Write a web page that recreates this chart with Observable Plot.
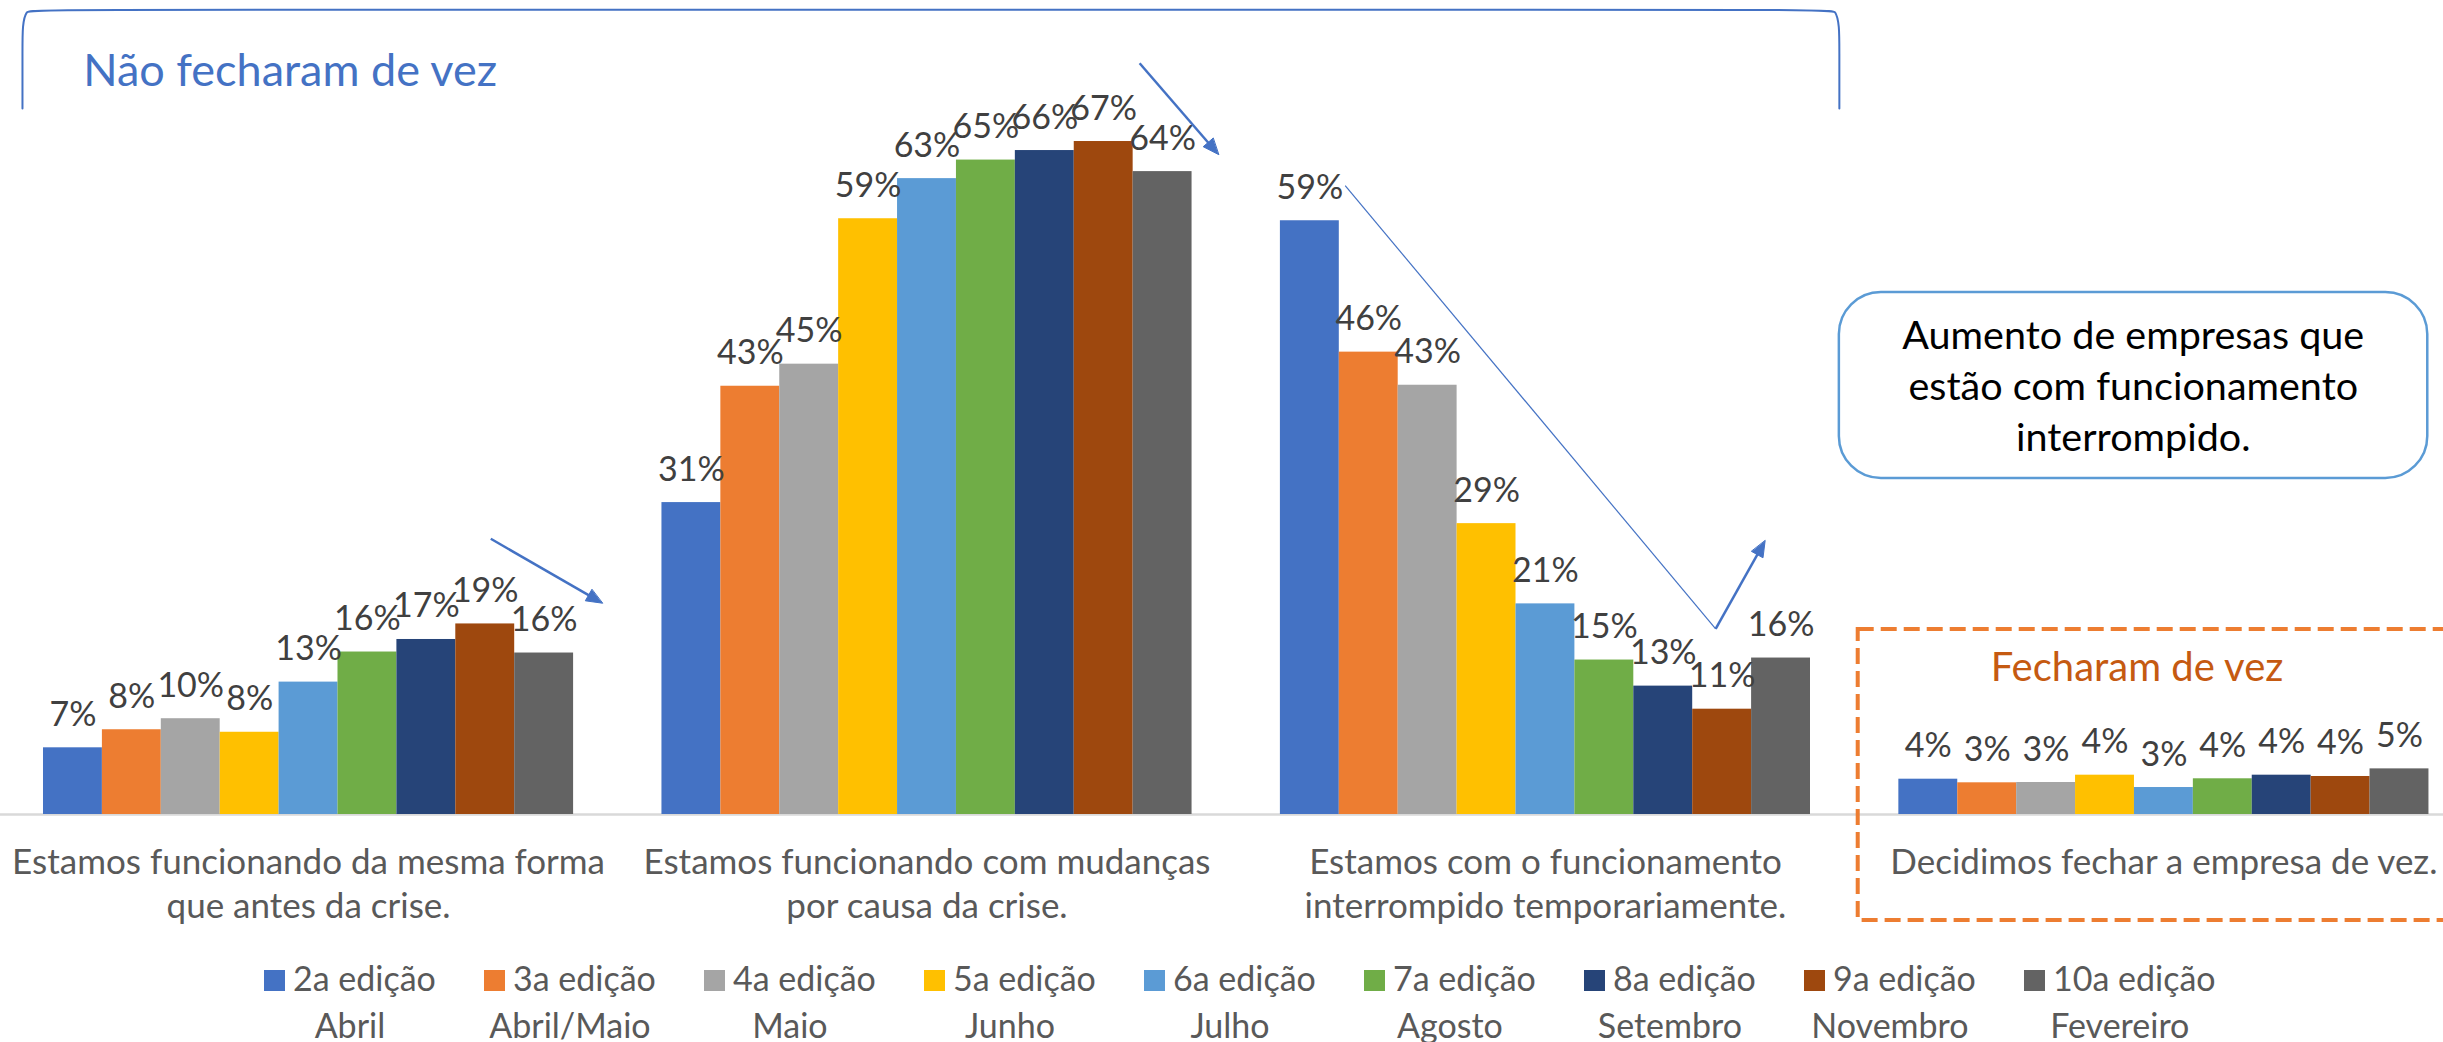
<!DOCTYPE html>
<html>
<head>
<meta charset="utf-8">
<script src="https://cdn.jsdelivr.net/npm/d3@7"></script>
<script src="https://cdn.jsdelivr.net/npm/@observablehq/plot@0.6"></script>
<style>
  html, body { margin: 0; padding: 0; background: #fff; overflow: hidden; }
  #chart svg { display: block; }
  .legend { position: relative; height: 92px; padding-top: 4px; font-family: Lato, sans-serif; font-size: 34px; color: #595959; line-height: 47px; }
  .item { position: absolute; top: 4px; text-align: center; white-space: nowrap; }
  .sw { display: inline-block; width: 21px; height: 21px; margin-right: 8px; vertical-align: baseline; }
</style>
</head>
<body>
<div id="chart"></div>
<div class="legend" id="legend"></div>
<script>
// ---------- data ----------
const categories = [
  "Estamos funcionando da mesma forma\nque antes da crise.",
  "Estamos funcionando com mudanças\npor causa da crise.",
  "Estamos com o funcionamento\ninterrompido temporariamente.",
  "Decidimos fechar a empresa de vez."
];
const editions = ["2a edição", "3a edição", "4a edição", "5a edição", "6a edição", "7a edição", "8a edição", "9a edição", "10a edição"];
const months = ["Abril", "Abril/Maio", "Maio", "Junho", "Julho", "Agosto", "Setembro", "Novembro", "Fevereiro"];
const colors = ["#4472C4", "#ED7D31", "#A5A5A5", "#FFC000", "#5B9BD5", "#70AD47", "#264478", "#9E480E", "#636363"];

// percent of companies, per edition
const mesmaForma    = [6.65, 8.45, 9.55, 8.2, 13.2, 16.2, 17.45, 19.0, 16.1];
const comMudancas   = [31.1, 42.7, 44.9, 59.4, 63.4, 65.25, 66.2, 67.1, 64.1];
const interrompido  = [59.2, 46.1, 42.8, 29.0, 21.0, 15.4, 12.8, 10.5, 15.6];
const fecharamDeVez = [3.52, 3.16, 3.19, 3.92, 2.69, 3.56, 3.92, 3.79, 4.55];

// annotations, in data coordinates (x in bar-width units, y in %)
const titleNaoFecharam = [{text: "Não fecharam de vez", x: 0.674, y: 72.68}];
const titleFecharam = [{text: "Fecharam de vez", x: 33.06, y: 13.36}];
const bracket = [
  {x: -0.357, y: 70.4}, {x: -0.357, y: 76.5}, {x: -0.357, y: 78.6}, {x: -0.30, y: 80.23},
  {x: -0.15, y: 80.23}, {x: 30.30, y: 80.23}, {x: 30.43, y: 80.23}, {x: 30.49, y: 78.6},
  {x: 30.49, y: 76.5}, {x: 30.49, y: 70.4}
];
const arrows = [
  {x1: 7.594, y1: 27.49, x2: 9.489, y2: 21.07},
  {x1: 18.61, y1: 74.9, x2: 19.95, y2: 65.8},
  {x1: 28.39, y1: 18.51, x2: 29.23, y2: 27.3}
];
const trendLine = [{x1: 22.10, y1: 62.7, x2: 28.39, y2: 18.51}];
const callout = [{x1: 30.49, x2: 40.48, y1: 33.5, y2: 52.04, cx: 35.48, ty: 36.29,
  text: "Aumento de empresas que\nestão com funcionamento\ninterrompido."}];
const closedBox = [{x1: 30.81, x2: 41.2, y1: -10.57, y2: 18.44}];

// ---------- build table ----------
const GROUP = editions.length, GAP = 1.5;
const series = [mesmaForma, comMudancas, interrompido, fecharamDeVez];
const rows = [];
series.forEach((vals, ci) => vals.forEach((v, ei) => rows.push({
  cat: categories[ci], ed: editions[ei], value: v,
  x1: ci * (GROUP + GAP) + ei, x2: ci * (GROUP + GAP) + ei + 1
})));
const catCenters = categories.map((c, i) => ({text: c, x: i * (GROUP + GAP) + GROUP / 2}));

const W = 2443, H = 950, MB = 136;
const BLUE = "#4472C4";

function build(extraMarks) {
  return Plot.plot({
    width: W, height: H,
    marginTop: 0, marginLeft: 0, marginRight: 0, marginBottom: MB,
    style: {fontFamily: "Lato, sans-serif", background: "white", overflow: "visible"},
    x: {type: "linear", domain: [-0.730, 40.747], axis: null},
    y: {domain: [0, 81.16], axis: null},
    color: {domain: editions, range: colors},
    marks: [
      Plot.ruleY([0], {stroke: "#d9d9d9", strokeWidth: 2.5}),
      Plot.rect(rows, {x1: "x1", x2: "x2", y1: 0, y2: "value", fill: "ed"}),
      Plot.text(rows, {x: d => (d.x1 + d.x2) / 2, y: "value", text: d => Math.round(d.value) + "%",
        lineAnchor: "bottom", dy: -22, fontSize: 34, fill: "#404040"}),
      Plot.text(catCenters, {x: "x", text: "text", frameAnchor: "bottom", lineAnchor: "top",
        dy: 28, fontSize: 35, lineHeight: 44 / 35, fill: "#595959"}),
      // annotations
      Plot.line(bracket, {x: "x", y: "y", curve: "basis", stroke: BLUE, strokeWidth: 2}),
      Plot.text(titleNaoFecharam, {x: "x", y: "y", text: "text", textAnchor: "start", lineAnchor: "bottom",
        fontSize: 45, fill: BLUE}),
      Plot.link(trendLine, {x1: "x1", y1: "y1", x2: "x2", y2: "y2", stroke: BLUE, strokeWidth: 1.2}),
      Plot.rect(callout, {x1: "x1", x2: "x2", y1: "y1", y2: "y2", rx: 42, fill: "white",
        stroke: "#5B9BD5", strokeWidth: 2.5}),
      Plot.text(callout, {x: "cx", y: "ty", text: "text", lineAnchor: "bottom", fontSize: 39.5,
        lineHeight: 51 / 39.5, fill: "#000"}),
      Plot.rect(closedBox, {x1: "x1", x2: "x2", y1: "y1", y2: "y2", fill: "none",
        stroke: "#ED7D31", strokeWidth: 4, strokeDasharray: "16,7"}),
      Plot.text(titleFecharam, {x: "x", y: "y", text: "text", textAnchor: "start", lineAnchor: "bottom",
        fontSize: 40, fill: "#C55A11"}),
      ...extraMarks
    ]
  });
}

// first pass: get the scales, then build filled arrowheads through them
const base = build([]);
const sx = base.scale("x"), sy = base.scale("y");
const HEAD_LEN = 16, HEAD_HALF = 6.5;
const shafts = [], heads = [];
arrows.forEach((a, k) => {
  const p1 = [sx.apply(a.x1), sy.apply(a.y1)], p2 = [sx.apply(a.x2), sy.apply(a.y2)];
  const dx = p2[0] - p1[0], dy = p2[1] - p1[1], L = Math.hypot(dx, dy);
  const ux = dx / L, uy = dy / L, nx = -uy, ny = ux;
  const bx = p2[0] - ux * HEAD_LEN, by = p2[1] - uy * HEAD_LEN;
  const back = [p2[0] - ux * (HEAD_LEN - 2), p2[1] - uy * (HEAD_LEN - 2)];
  shafts.push({x1: a.x1, y1: a.y1, x2: sx.invert(back[0]), y2: sy.invert(back[1])});
  [[p2[0], p2[1]], [bx + nx * HEAD_HALF, by + ny * HEAD_HALF], [bx - nx * HEAD_HALF, by - ny * HEAD_HALF]]
    .forEach(([px, py]) => heads.push({id: k, x: sx.invert(px), y: sy.invert(py)}));
});

const chart = build([
  Plot.link(shafts, {x1: "x1", y1: "y1", x2: "x2", y2: "y2", stroke: BLUE, strokeWidth: 2.5}),
  Plot.line(heads, {x: "x", y: "y", z: "id", fill: BLUE, stroke: BLUE, strokeWidth: 1, curve: "linear-closed"})
]);
document.getElementById("chart").appendChild(chart);

// ---------- legend ----------
const legend = document.getElementById("legend");
editions.forEach((ed, i) => {
  const item = document.createElement("div");
  item.className = "item";
  item.style.left = (264 + 220 * i) + "px";
  item.innerHTML = `<div><span class="sw" style="background:${colors[i]}"></span>${ed}</div><div>${months[i]}</div>`;
  legend.appendChild(item);
});
</script>
</body>
</html>
